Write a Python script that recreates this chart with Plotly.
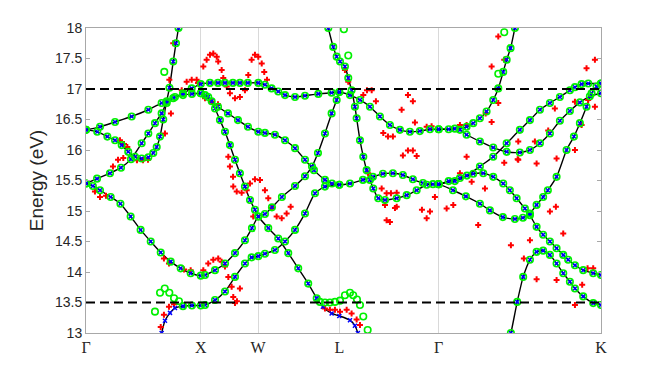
import plotly.graph_objects as go

# ---------------- data ----------------
path_pos = [0.0, 1.0, 1.5, 2.207, 3.073, 4.487]
path_labels = ['Γ', 'X', 'W', 'L', 'Γ', 'K']
ref_levels = [17.0, 13.5]

# bands: (k along path, energy in eV)
band0_tail = [(0.645, 12.88), (0.659, 13.0), (0.688, 13.2), (0.732, 13.33), (0.775, 13.41), (0.845, 13.44)]
band0 = [(0.845, 13.44), (0.923, 13.45), (1.0, 13.45), (1.037, 13.46), (1.124, 13.54), (1.211, 13.68),
         (1.298, 13.92), (1.385, 14.14), (1.443, 14.24), (1.501, 14.26), (1.559, 14.30), (1.646, 14.36),
         (1.734, 14.50), (1.821, 14.69), (1.908, 14.96), (1.995, 15.29), (2.082, 15.40), (2.207, 15.43)]
band1 = [(0.0, 15.45), (0.06, 15.41), (0.122, 15.34), (0.215, 15.23), (0.3, 15.12), (0.389, 14.91),
         (0.476, 14.69), (0.564, 14.50), (0.651, 14.32), (0.738, 14.17), (0.825, 14.06), (0.912, 13.98),
         (1.0, 13.94), (1.037, 13.95), (1.124, 14.03), (1.211, 14.14), (1.298, 14.31), (1.385, 14.52),
         (1.446, 14.72), (1.501, 14.91), (1.559, 14.95), (1.620, 15.06), (1.707, 15.23), (1.821, 15.41),
         (1.908, 15.57), (1.969, 15.73), (2.021, 15.95), (2.082, 16.27), (2.140, 16.60), (2.184, 16.82),
         (2.207, 16.95)]
band2 = [(0.0, 15.45), (0.096, 15.53), (0.209, 15.62), (0.305, 15.71), (0.392, 15.85), (0.485, 16.11),
         (0.543, 16.27), (0.601, 16.44), (0.659, 16.60), (0.703, 16.77), (0.760, 16.85), (0.845, 16.90),
         (0.923, 16.92), (1.0, 16.93), (1.037, 16.90), (1.095, 16.80), (1.150, 16.71), (1.237, 16.60),
         (1.324, 16.49), (1.411, 16.38), (1.501, 16.30), (1.559, 16.28), (1.646, 16.25), (1.734, 16.16),
         (1.821, 16.03), (1.908, 15.84), (1.986, 15.67), (2.082, 15.51), (2.143, 15.45), (2.207, 15.43),
         (2.300, 15.45), (2.413, 15.51), (2.500, 15.56), (2.587, 15.61), (2.674, 15.62), (2.761, 15.59),
         (2.848, 15.52), (2.936, 15.46), (3.023, 15.44), (3.073, 15.44), (3.160, 15.49), (3.258, 15.54),
         (3.374, 15.61), (3.461, 15.62), (3.548, 15.56), (3.635, 15.45), (3.693, 15.34), (3.752, 15.21),
         (3.824, 15.04), (3.868, 14.93), (3.926, 14.74), (3.983, 14.61), (4.042, 14.50), (4.100, 14.39),
         (4.158, 14.28), (4.201, 14.20), (4.260, 14.11), (4.332, 14.03), (4.419, 13.98), (4.487, 13.95)]
band3 = [(0.0, 16.33), (0.122, 16.38), (0.253, 16.46), (0.398, 16.55), (0.543, 16.66), (0.659, 16.77),
         (0.775, 16.87), (0.845, 16.93), (0.921, 17.01), (1.0, 17.08), (1.080, 17.10), (1.150, 17.10),
         (1.211, 17.10), (1.280, 17.10), (1.341, 17.10), (1.410, 17.10), (1.501, 17.10), (1.559, 17.07),
         (1.617, 17.01), (1.675, 16.96), (1.734, 16.90), (1.821, 16.87), (1.908, 16.89), (2.024, 16.92),
         (2.140, 16.94), (2.207, 16.95), (2.300, 16.90), (2.387, 16.82), (2.474, 16.71), (2.561, 16.55),
         (2.648, 16.41), (2.735, 16.33), (2.822, 16.30), (2.909, 16.31), (2.997, 16.34), (3.073, 16.34),
         (3.160, 16.34), (3.258, 16.33), (3.316, 16.25), (3.432, 16.14), (3.548, 16.04), (3.665, 15.97),
         (3.780, 15.96), (3.868, 16.00), (3.955, 16.11), (4.042, 16.27), (4.129, 16.48), (4.216, 16.64),
         (4.303, 16.78), (4.390, 16.88), (4.487, 16.93)]
band4 = [(0.0, 16.33), (0.098, 16.30), (0.186, 16.22), (0.253, 16.16), (0.311, 16.08), (0.368, 15.97),
         (0.427, 15.89), (0.485, 15.86), (0.543, 15.88), (0.586, 15.95), (0.616, 16.05), (0.645, 16.22),
         (0.673, 16.50), (0.703, 16.80), (0.727, 17.02), (0.760, 17.45), (0.784, 17.75), (0.806, 18.0),
         (0.82, 18.2)]
bandS = [(1.0, 16.93), (1.065, 16.87), (1.124, 16.68), (1.167, 16.49), (1.211, 16.30), (1.254, 16.08),
         (1.298, 15.84), (1.341, 15.62), (1.385, 15.40), (1.429, 15.18), (1.472, 15.02), (1.501, 14.91),
         (1.588, 14.72), (1.675, 14.55), (1.762, 14.31), (1.849, 14.06), (1.936, 13.81), (2.010, 13.57)]
bandS_tail = [(2.010, 13.57), (2.064, 13.43), (2.140, 13.32), (2.207, 13.28), (2.300, 13.21),
              (2.343, 13.12), (2.369, 13.0), (2.395, 12.85)]
bandL = [(2.099, 18.1), (2.111, 18.0), (2.154, 17.69), (2.184, 17.53), (2.213, 17.45), (2.256, 17.37),
         (2.285, 17.18), (2.314, 16.98), (2.343, 16.71), (2.358, 16.52), (2.387, 16.16), (2.416, 15.89),
         (2.445, 15.67), (2.474, 15.51), (2.503, 15.37), (2.546, 15.21), (2.605, 15.18), (2.707, 15.21),
         (2.794, 15.26), (2.881, 15.34), (2.968, 15.43), (3.073, 15.44), (3.197, 15.34), (3.310, 15.24),
         (3.432, 15.12), (3.519, 15.01), (3.632, 14.90), (3.737, 14.87), (3.807, 14.89), (3.868, 14.96),
         (3.926, 15.10), (3.983, 15.23), (4.024, 15.34), (4.100, 15.56), (4.187, 16.00), (4.251, 16.22),
         (4.303, 16.44), (4.361, 16.71), (4.405, 16.93), (4.448, 17.04), (4.487, 17.09)]
bandC = [(3.073, 15.44), (3.214, 15.49), (3.319, 15.58), (3.432, 15.73), (3.548, 15.89), (3.665, 16.11),
         (3.780, 16.33), (3.868, 16.49), (3.955, 16.66), (4.042, 16.77), (4.129, 16.87), (4.216, 16.98),
         (4.260, 17.03), (4.318, 17.08), (4.376, 17.09), (4.487, 17.09)]
bandD = [(3.073, 16.34), (3.214, 16.35), (3.316, 16.38), (3.374, 16.44), (3.432, 16.52), (3.490, 16.63),
         (3.548, 16.82), (3.592, 17.01), (3.635, 17.28), (3.665, 17.48), (3.699, 17.67), (3.737, 18.0),
         (3.75, 18.1)]
bandE = [(3.685, 12.9), (3.702, 13.0), (3.757, 13.51), (3.809, 13.92), (3.868, 14.20), (3.926, 14.33),
         (3.983, 14.35), (4.042, 14.28), (4.100, 14.14), (4.158, 13.98), (4.216, 13.84), (4.260, 13.73),
         (4.332, 13.60), (4.419, 13.49), (4.487, 13.46)]

# scattered (red +) points
red_pts = [
    (0.078, 15.32), (0.122, 15.23), (0.174, 15.25), (0.235, 15.73), (0.279, 15.84), (0.325, 15.87),
    (0.296, 16.16), (0.331, 16.10), (0.360, 16.05), (0.444, 15.83), (0.497, 15.83), (0.540, 15.84),
    (0.688, 16.27), (0.740, 16.60), (0.726, 17.15), (0.760, 17.75), (0.834, 16.98), (0.877, 17.12),
    (0.921, 17.15), (0.964, 17.15), (0.679, 14.22), (0.723, 14.14), (0.854, 14.04), (0.912, 14.03),
    (0.651, 13.10), (0.679, 13.30), (0.723, 13.43), (0.767, 13.47),
    (0.976, 17.10), (1.022, 17.37), (1.051, 17.48), (1.080, 17.56), (1.109, 17.58), (1.139, 17.53),
    (1.152, 17.45), (1.182, 17.31), (1.196, 17.18), (1.226, 17.04), (1.254, 16.93), (1.298, 16.85),
    (1.341, 16.87), (1.385, 16.98), (1.414, 17.23), (1.443, 17.48), (1.472, 17.56), (1.501, 17.53),
    (1.531, 17.42), (1.553, 17.28), (1.577, 17.15), (1.037, 16.85), (1.095, 16.79), (1.150, 16.75),
    (1.240, 15.89), (1.254, 15.73), (1.281, 15.56), (1.283, 15.40), (1.313, 15.32), (1.356, 15.30),
    (1.400, 15.34), (1.429, 15.45), (1.472, 15.52), (1.516, 15.51), (1.559, 15.34), (1.588, 15.21),
    (1.620, 15.05), (1.661, 14.91), (1.705, 14.88), (1.748, 14.96), (1.783, 15.07), (1.457, 14.91),
    (1.022, 14.03), (1.065, 14.14), (1.109, 14.20), (1.152, 14.22), (1.182, 14.17), (1.211, 14.09),
    (1.240, 13.92), (1.269, 13.76), (1.283, 13.59), (1.298, 13.49), (1.315, 13.52), (1.341, 13.73),
    (2.082, 13.40), (2.125, 13.38), (2.169, 13.38), (2.213, 13.35), (2.271, 13.38), (2.314, 13.32),
    (2.358, 13.22), (2.387, 13.13),
    (2.256, 17.31), (2.285, 17.12), (2.416, 16.90), (2.448, 16.98), (2.489, 16.98), (2.526, 16.80),
    (2.590, 16.28), (2.631, 16.22), (2.674, 16.22), (2.750, 16.66), (2.805, 16.90), (2.848, 16.80),
    (2.866, 16.45), (2.968, 16.38), (3.011, 16.39), (2.459, 15.62), (2.576, 15.37), (2.619, 15.29),
    (2.657, 15.29), (2.707, 15.30), (2.761, 15.91), (2.805, 15.99), (2.848, 15.99), (2.881, 15.90),
    (2.605, 15.10), (2.692, 15.05), (2.619, 14.85), (2.648, 14.82), (2.707, 15.07), (2.927, 15.02),
    (2.968, 14.88), (2.997, 14.99), (3.040, 15.23), (3.142, 15.04), (3.200, 15.10),
    (3.592, 17.86), (3.644, 17.48), (3.534, 17.37), (3.592, 16.77), (3.534, 16.46), (3.482, 16.60),
    (3.258, 16.41), (3.316, 16.41), (3.316, 15.89), (3.258, 15.62), (3.360, 15.48), (3.476, 15.37),
    (3.417, 14.77), (3.766, 16.14), (3.766, 15.84), (3.926, 15.78), (4.100, 15.86), (4.027, 16.32),
    (4.085, 16.68), (4.260, 16.79), (4.260, 16.00), (4.318, 16.41), (4.434, 16.71), (4.361, 17.34),
    (4.434, 17.48), (3.702, 14.44), (3.868, 14.52), (3.815, 14.22), (3.926, 13.88), (4.100, 13.87),
    (4.158, 14.63), (4.260, 13.46), (4.323, 13.79), (4.370, 14.06), (4.419, 14.06), (4.042, 14.99),
    (4.094, 15.07), (3.644, 15.79), (3.761, 15.85), (3.911, 16.14), (4.375, 16.82),
]

# green circles that leave the bands
green_pts = [
    (0.601, 13.35), (0.645, 13.66), (0.686, 13.73), (0.726, 13.66), (0.767, 13.57), (0.810, 13.52),
    (0.682, 17.28), (2.038, 13.51), (2.082, 13.50), (2.125, 13.50), (2.169, 13.51), (2.213, 13.53),
    (2.256, 13.62), (2.300, 13.66), (2.328, 13.62), (2.361, 13.55), (2.387, 13.46), (2.416, 13.27),
    (2.454, 13.05), (2.247, 17.98), (2.285, 17.55), (3.644, 17.93), (3.592, 17.25),
]

main_bands = [band0, band1, band2, band3, band4, bandS, bandL, bandC, bandD, bandE]
tail_bands = [band0_tail, bandS_tail]

# ---------------- figure ----------------
fig = go.Figure()

for b in main_bands + tail_bands:
    fig.add_trace(go.Scatter(x=[p[0] for p in b], y=[p[1] for p in b], mode='lines',
                             line=dict(color='black', width=1.4, shape='spline', smoothing=0.6),
                             hoverinfo='skip', showlegend=False))

fig.add_trace(go.Scatter(x=[p[0] for p in red_pts], y=[p[1] for p in red_pts], mode='markers',
                         marker=dict(symbol='cross', size=5, color='#ff0000', line=dict(width=0)),
                         showlegend=False))

blue = [p for b in main_bands + tail_bands for p in b]
fig.add_trace(go.Scatter(x=[p[0] for p in blue], y=[p[1] for p in blue], mode='markers',
                         marker=dict(symbol='x-thin', size=4, color='#0000ff',
                                     line=dict(width=1.5, color='#0000ff')),
                         showlegend=False))

green = [p for b in main_bands for p in b] + green_pts
fig.add_trace(go.Scatter(x=[p[0] for p in green], y=[p[1] for p in green], mode='markers',
                         marker=dict(symbol='circle-open', size=6.5, color='#00f000',
                                     line=dict(width=1.6, color='#00f000')),
                         showlegend=False))

for lv in ref_levels:
    fig.add_shape(type='line', xref='paper', x0=0, x1=1, yref='y', y0=lv, y1=lv,
                  line=dict(color='black', width=2, dash='9px,5px'), layer='above')

font_main = 'Liberation Sans, Arial, sans-serif'
fig.update_layout(
    width=656, height=366,
    margin=dict(l=78, r=63, t=20, b=41),
    paper_bgcolor='white', plot_bgcolor='white',
    font=dict(family=font_main, color='#262626', size=14),
    xaxis=dict(range=[0, 4.487], tickmode='array', tickvals=path_pos, ticktext=path_labels,
               showgrid=True, gridcolor='#d9d9d9', gridwidth=1, zeroline=False,
               showline=True, linecolor='#a8a8a8', linewidth=1, mirror=True, ticks='',
               tickfont=dict(size=16, family='Liberation Serif, serif', color='#262626')),
    yaxis=dict(range=[13, 18], tickmode='linear', tick0=13, dtick=0.5,
               showgrid=False, zeroline=False, showline=True, linecolor='#a8a8a8', linewidth=1,
               mirror='ticks', ticks='inside', ticklen=4, tickcolor='#a8a8a8',
               tickfont=dict(size=14),
               title=dict(text='Energy (eV)', font=dict(size=19), standoff=6)),
)

fig.write_html('out.html')
